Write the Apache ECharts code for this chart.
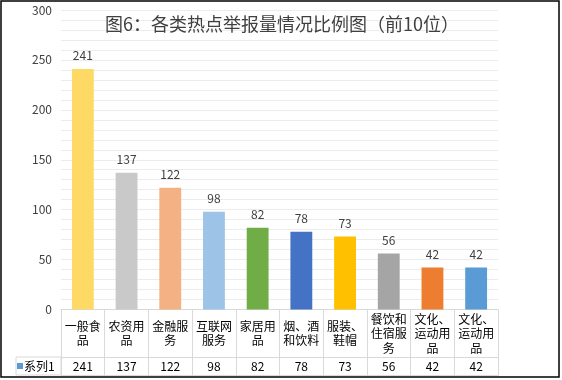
<!DOCTYPE html>
<html><head><meta charset="utf-8">
<script src="https://cdn.jsdelivr.net/npm/echarts@6/dist/echarts.min.js"></script>
<style>html,body{margin:0;padding:0;background:#fff}#c{width:562px;height:380px}</style>
</head><body><div id="c"></div>
<script>
const categories = ['一般食\n品','农资用\n品','金融服\n务','互联网\n服务','家居用\n品','烟、酒\n和饮料','服装、\n鞋帽','餐饮和\n住宿服\n务','文化、\n运动用\n品','文化、\n运动用\n品'];
const values = [241,137,122,98,82,78,73,56,42,42];
const colors = ['#FFD966','#C9C9C9','#F4B183','#9DC3E6','#70AD47','#4472C4','#FFC000','#A5A5A5','#ED7D31','#5B9BD5'];
const seriesName = '系列1';
const titleText = '图6：各类热点举报量情况比例图（前10位）';

const FONT = '"Noto Sans CJK SC", "Noto Sans", sans-serif';
const chart = echarts.init(document.getElementById('c'), null, {renderer:'canvas'});
chart.setOption({
  animation:false,
  textStyle:{fontFamily:FONT},
  title:{text:titleText,left:100,top:10,textStyle:{fontSize:18,fontWeight:'normal',color:'#404040',fontFamily:FONT}},
  grid:{left:61,right:64,top:10,bottom:70.5,containLabel:false},
  xAxis:[{
    type:'category',data:categories,position:'bottom',
    axisLine:{lineStyle:{color:'#d9d9d9',width:1}},
    axisTick:{show:true,length:66,interval:0,lineStyle:{color:'#d9d9d9'}},
    axisLabel:{interval:0,margin:24,verticalAlign:'middle',fontSize:12,lineHeight:14.5,color:'#000',fontFamily:FONT}
  },{
    type:'category',data:categories,position:'bottom',offset:48,
    axisLine:{show:true,lineStyle:{color:'#d9d9d9',width:1}},
    axisTick:{show:false},
    axisLabel:{interval:0,margin:9,verticalAlign:'middle',fontSize:12,color:'#000',fontFamily:FONT,
      formatter:(v,i)=>String(values[i])}
  },{
    type:'category',data:categories,position:'bottom',offset:66,
    axisLine:{show:true,lineStyle:{color:'#d9d9d9',width:1}},
    axisTick:{show:false},axisLabel:{show:false}
  }],
  yAxis:{type:'value',min:0,max:300,interval:50,
    axisLine:{show:false},axisTick:{show:false},
    axisLabel:{margin:9,fontSize:12,color:'#404040',fontFamily:FONT},
    splitLine:{lineStyle:{color:'#ececec',width:1}},
    minorTick:{show:false,splitNumber:5},
    minorSplitLine:{show:true,lineStyle:{color:'#ececec',width:1}}
  },
  series:[{
    type:'bar',name:seriesName,xAxisIndex:0,barWidth:'50%',
    data:values.map((v,i)=>({value:v,itemStyle:{color:colors[i]}})),
    label:{show:true,position:'top',distance:7,fontSize:12,color:'#404040',fontFamily:FONT}
  }],
  graphic:[
    {type:'rect',shape:{x:16,y:357,width:45,height:18},style:{fill:'none',stroke:'#d9d9d9',lineWidth:1}},
    {type:'rect',shape:{x:17,y:363,width:6,height:6},style:{fill:'#5B9BD5'}},
    {type:'text',x:24,y:366,style:{text:seriesName,fontSize:12,fill:'#000',fontFamily:FONT,verticalAlign:'middle'}},
    {type:'rect',shape:{x:1,y:1,width:558,height:376},style:{fill:'none',stroke:'#000',lineWidth:1.5}}
  ]
});
</script></body></html>
